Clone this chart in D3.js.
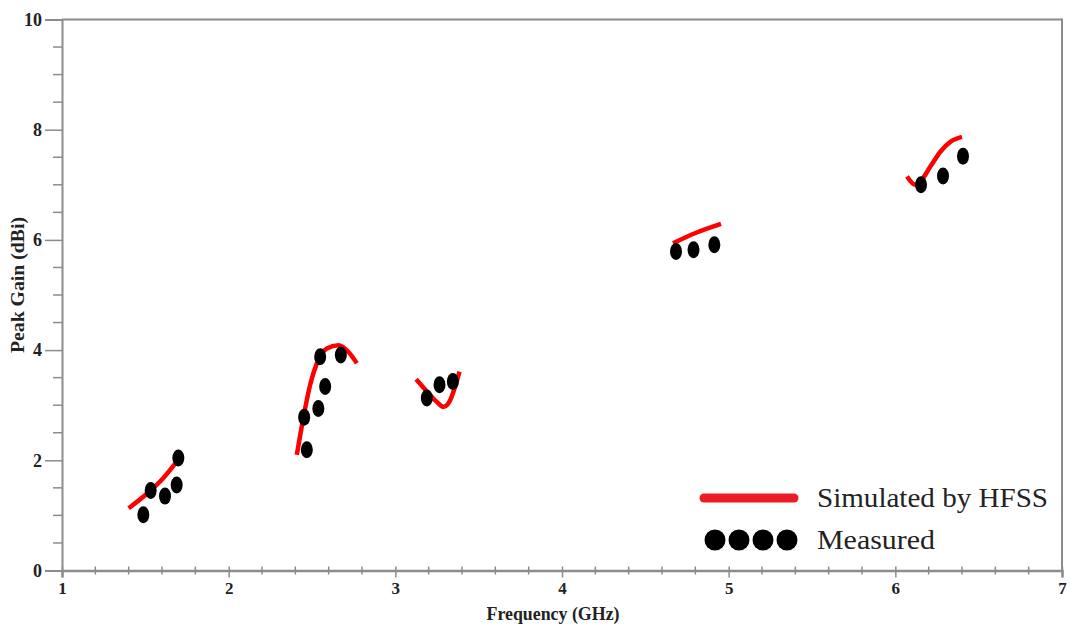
<!DOCTYPE html>
<html><head><meta charset="utf-8">
<script src="https://cdn.jsdelivr.net/npm/d3@7"></script>
<style>body{margin:0;background:#fff}svg{display:block}</style>
</head><body>
<svg id="c" width="1071" height="628"></svg>
<script>
// Simulated (HFSS) segments: frequency (GHz) and peak gain (dBi)
const simFreq = [
  [1.40, 1.50, 1.60, 1.70],
  [2.409, 2.453, 2.489, 2.529, 2.589, 2.658, 2.718, 2.769],
  [3.125, 3.189, 3.249, 3.289, 3.329, 3.359, 3.385],
  [4.666, 4.805, 4.954],
  [6.070, 6.120, 6.150, 6.210, 6.270, 6.330, 6.400]
];
const simGain = [
  [1.13, 1.37, 1.65, 2.02],
  [2.10, 2.85, 3.37, 3.76, 4.03, 4.09, 3.97, 3.76],
  [3.47, 3.25, 3.06, 2.97, 3.09, 3.34, 3.61],
  [5.94, 6.13, 6.29],
  [7.15, 7.00, 7.06, 7.33, 7.60, 7.78, 7.87]
];
// Measured points
const measFreq = [1.488, 1.532, 1.618, 1.688, 1.698,
                  2.469, 2.453, 2.538, 2.579, 2.549, 2.673,
                  3.189, 3.265, 3.345,
                  4.684, 4.789, 4.914,
                  6.154, 6.286, 6.406];
const measGain = [1.01, 1.45, 1.35, 1.55, 2.04,
                  2.19, 2.78, 2.94, 3.34, 3.88, 3.91,
                  3.13, 3.37, 3.43,
                  5.79, 5.82, 5.91,
                  7.00, 7.16, 7.52];
const xTicks = [1, 2, 3, 4, 5, 6, 7];
const yTicks = [0, 2, 4, 6, 8, 10];
const legendLabels = ["Simulated by HFSS", "Measured"];
const xTitle = "Frequency (GHz)";
const yTitle = "Peak Gain (dBi)";

const svg = d3.select("#c");
const L = 62, R = 1062, T = 19.5, B = 570.5;
const x = d3.scaleLinear().domain([1, 7]).range([L, R]);
const y = d3.scaleLinear().domain([0, 10]).range([B, T]);
const axisCol = "#8c8c8c";
const serif = "'Liberation Serif','Times New Roman',serif";

// frame top & right
svg.append("line").attr("x1", L).attr("x2", R).attr("y1", T).attr("y2", T)
  .attr("stroke", axisCol).attr("stroke-width", 2);
svg.append("line").attr("x1", R).attr("x2", R).attr("y1", T - 1).attr("y2", B)
  .attr("stroke", axisCol).attr("stroke-width", 2);

// y axis
const yAxis = d3.axisLeft(y).tickValues(yTicks).tickSize(17).tickPadding(3).tickFormat(d3.format("d"));
const gy = svg.append("g").attr("transform", `translate(${L},0)`).call(yAxis);
gy.select(".domain").attr("stroke", axisCol).attr("stroke-width", 2);
gy.selectAll(".tick line").attr("stroke", axisCol).attr("stroke-width", 1.5);
gy.selectAll(".tick text").attr("font-family", serif).attr("font-weight", "bold")
  .attr("font-size", 18).attr("fill", "#222");
const yMinor = d3.range(0, 10.01, 0.5).filter(v => Math.abs(v % 2) > 0.01);
svg.append("g").selectAll("line").data(yMinor).join("line")
  .attr("x1", L - 9).attr("x2", L).attr("y1", d => y(d)).attr("y2", d => y(d))
  .attr("stroke", axisCol).attr("stroke-width", 1.5);

// x axis
const xAxis = d3.axisBottom(x).tickValues(xTicks).tickSize(7).tickPadding(4).tickFormat(d3.format("d"));
const gx = svg.append("g").attr("transform", `translate(0,${B})`).call(xAxis);
gx.select(".domain").attr("stroke", axisCol).attr("stroke-width", 2.5);
gx.selectAll(".tick line").attr("stroke", axisCol).attr("stroke-width", 1.5).attr("y1", -4);
gx.selectAll(".tick text").attr("font-family", serif).attr("font-weight", "bold")
  .attr("font-size", 17).attr("fill", "#222");
const xMinor = d3.range(1, 7.001, 0.2).filter(v => Math.abs(v - Math.round(v)) > 0.01);
svg.append("g").selectAll("line").data(xMinor).join("line")
  .attr("x1", d => x(d)).attr("x2", d => x(d)).attr("y1", B - 4).attr("y2", B + 4)
  .attr("stroke", axisCol).attr("stroke-width", 1.5);

// titles
svg.append("text").attr("x", 553).attr("y", 620).attr("text-anchor", "middle")
  .attr("font-family", serif).attr("font-weight", "bold").attr("font-size", 19)
  .attr("textLength", 133).attr("lengthAdjust", "spacingAndGlyphs")
  .attr("fill", "#222").text(xTitle);
svg.append("text").attr("transform", "translate(24,285) rotate(-90)").attr("text-anchor", "middle")
  .attr("font-family", serif).attr("font-weight", "bold").attr("font-size", 18)
  .attr("textLength", 136).attr("lengthAdjust", "spacingAndGlyphs")
  .attr("fill", "#222").text(yTitle);

// simulated lines
const line = d3.line().x(d => x(d[0])).y(d => y(d[1])).curve(d3.curveMonotoneX);
simFreq.forEach((fs, i) => {
  const pts = fs.map((f, j) => [f, simGain[i][j]]);
  svg.append("path").attr("d", line(pts)).attr("fill", "none")
    .attr("stroke", "#ff0000").attr("stroke-width", 4.5);
});

// measured points
svg.append("g").selectAll("ellipse").data(measFreq.map((f, i) => [f, measGain[i]])).join("ellipse")
  .attr("cx", d => x(d[0])).attr("cy", d => y(d[1])).attr("rx", 6).attr("ry", 8.5)
  .attr("fill", "#000");

// legend
svg.append("line").attr("x1", 704).attr("x2", 794).attr("y1", 498).attr("y2", 498)
  .attr("stroke", "#ed1c24").attr("stroke-width", 9).attr("stroke-linecap", "round");
svg.append("g").selectAll("circle").data([0, 1, 2, 3]).join("circle")
  .attr("cx", d => 715 + d * 24).attr("cy", 540).attr("r", 10.5).attr("fill", "#000");
svg.append("text").attr("x", 817).attr("y", 507).attr("font-family", serif)
  .attr("font-size", 27).attr("textLength", 231).attr("lengthAdjust", "spacingAndGlyphs")
  .attr("fill", "#222").text(legendLabels[0]);
svg.append("text").attr("x", 817).attr("y", 549).attr("font-family", serif)
  .attr("font-size", 27).attr("textLength", 118).attr("lengthAdjust", "spacingAndGlyphs")
  .attr("fill", "#222").text(legendLabels[1]);
</script>
</body></html>
